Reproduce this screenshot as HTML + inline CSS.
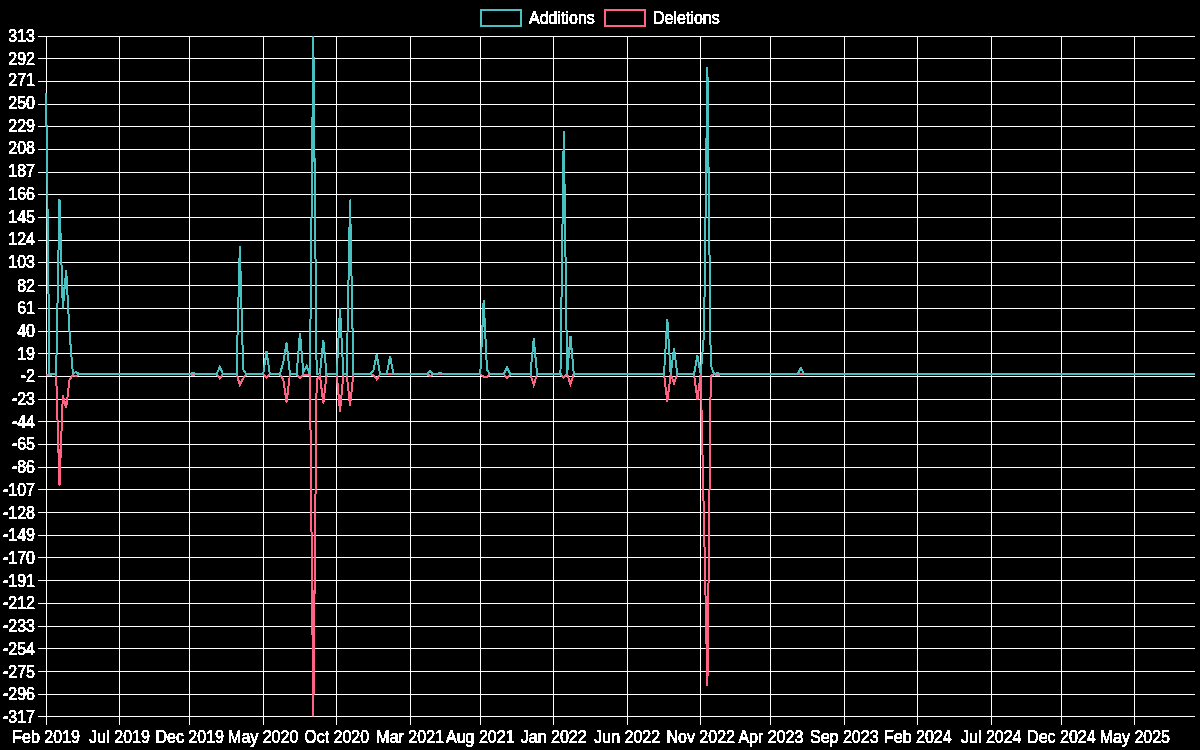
<!DOCTYPE html>
<html><head><meta charset="utf-8"><style>
html,body{margin:0;padding:0;background:#000;width:1200px;height:750px;overflow:hidden}
#c{position:relative;width:1200px;height:750px;background:#000}
svg{position:absolute;left:0;top:0}
.t{position:absolute;-webkit-text-stroke:0.6px #fff;font-family:"Liberation Sans",sans-serif;font-size:16px;line-height:16px;color:#fff;white-space:nowrap;transform:scaleY(1.1);transform-origin:50% 50%}
.yl{right:1165px;text-align:right}
.xl{width:120px;text-align:center}
</style></head><body><div id="c"><svg width="0" height="0" style="position:absolute"><filter id="thr" x="-5%" y="-20%" width="110%" height="140%"><feComponentTransfer><feFuncA type="discrete" tableValues="0 1"/></feComponentTransfer></filter></svg><div id="txt" style="position:absolute;left:0;top:0;width:1200px;height:750px;filter:url(#thr)">
<svg width="1200" height="750" viewBox="0 0 1200 750" shape-rendering="auto">
<rect x="38" y="36" width="1157" height="1" fill="#ffffff"/>
<rect x="38" y="58" width="1157" height="1" fill="#ffffff"/>
<rect x="38" y="81" width="1157" height="1" fill="#ffffff"/>
<rect x="38" y="104" width="1157" height="1" fill="#ffffff"/>
<rect x="38" y="126" width="1157" height="1" fill="#ffffff"/>
<rect x="38" y="149" width="1157" height="1" fill="#ffffff"/>
<rect x="38" y="172" width="1157" height="1" fill="#ffffff"/>
<rect x="38" y="194" width="1157" height="1" fill="#ffffff"/>
<rect x="38" y="217" width="1157" height="1" fill="#ffffff"/>
<rect x="38" y="240" width="1157" height="1" fill="#ffffff"/>
<rect x="38" y="262" width="1157" height="1" fill="#ffffff"/>
<rect x="38" y="285" width="1157" height="1" fill="#ffffff"/>
<rect x="38" y="308" width="1157" height="1" fill="#ffffff"/>
<rect x="38" y="331" width="1157" height="1" fill="#ffffff"/>
<rect x="38" y="353" width="1157" height="1" fill="#ffffff"/>
<rect x="38" y="376" width="1157" height="1" fill="#ffffff"/>
<rect x="38" y="399" width="1157" height="1" fill="#ffffff"/>
<rect x="38" y="421" width="1157" height="1" fill="#ffffff"/>
<rect x="38" y="444" width="1157" height="1" fill="#ffffff"/>
<rect x="38" y="467" width="1157" height="1" fill="#ffffff"/>
<rect x="38" y="489" width="1157" height="1" fill="#ffffff"/>
<rect x="38" y="512" width="1157" height="1" fill="#ffffff"/>
<rect x="38" y="535" width="1157" height="1" fill="#ffffff"/>
<rect x="38" y="557" width="1157" height="1" fill="#ffffff"/>
<rect x="38" y="580" width="1157" height="1" fill="#ffffff"/>
<rect x="38" y="603" width="1157" height="1" fill="#ffffff"/>
<rect x="38" y="626" width="1157" height="1" fill="#ffffff"/>
<rect x="38" y="648" width="1157" height="1" fill="#ffffff"/>
<rect x="38" y="671" width="1157" height="1" fill="#ffffff"/>
<rect x="38" y="694" width="1157" height="1" fill="#ffffff"/>
<rect x="38" y="716" width="1157" height="1" fill="#ffffff"/>
<rect x="46" y="36" width="1" height="689" fill="#ffffff"/>
<rect x="119" y="36" width="1" height="689" fill="#ffffff"/>
<rect x="189" y="36" width="1" height="689" fill="#ffffff"/>
<rect x="263" y="36" width="1" height="689" fill="#ffffff"/>
<rect x="336" y="36" width="1" height="689" fill="#ffffff"/>
<rect x="410" y="36" width="1" height="689" fill="#ffffff"/>
<rect x="480" y="36" width="1" height="689" fill="#ffffff"/>
<rect x="553" y="36" width="1" height="689" fill="#ffffff"/>
<rect x="627" y="36" width="1" height="689" fill="#ffffff"/>
<rect x="700" y="36" width="1" height="689" fill="#ffffff"/>
<rect x="770" y="36" width="1" height="689" fill="#ffffff"/>
<rect x="844" y="36" width="1" height="689" fill="#ffffff"/>
<rect x="917" y="36" width="1" height="689" fill="#ffffff"/>
<rect x="991" y="36" width="1" height="689" fill="#ffffff"/>
<rect x="1061" y="36" width="1" height="689" fill="#ffffff"/>
<rect x="1134" y="36" width="1" height="689" fill="#ffffff"/>
<defs><clipPath id="ca"><rect x="45.12" y="35.1" width="1150.88" height="683"/></clipPath></defs><g clip-path="url(#ca)">
<path d="M46.12,375.08 L49.46,375.08 L52.80,374.00 L56.14,374.00 L59.48,485.83 L62.82,395.18 L66.16,407.93 L69.50,379.94 L72.84,375.08 L76.18,376.16 L79.52,374.00 L82.86,374.00 L86.20,374.00 L89.54,374.00 L92.88,374.00 L96.22,374.00 L99.56,374.00 L102.90,374.00 L106.24,374.00 L109.58,374.00 L112.92,374.00 L116.26,374.00 L119.59,374.00 L122.93,374.00 L126.27,374.00 L129.61,374.00 L132.95,374.00 L136.29,374.00 L139.63,374.00 L142.97,374.00 L146.31,374.00 L149.65,374.00 L152.99,374.00 L156.33,374.00 L159.67,374.00 L163.01,374.00 L166.35,374.00 L169.69,374.00 L173.03,374.00 L176.37,374.00 L179.71,374.00 L183.05,374.00 L186.39,374.00 L189.73,374.00 L193.07,375.08 L196.41,374.00 L199.75,374.00 L203.09,374.00 L206.43,374.00 L209.77,374.00 L213.11,374.00 L216.45,374.00 L219.79,378.32 L223.13,374.00 L226.47,374.00 L229.81,374.00 L233.15,374.00 L236.49,374.00 L239.83,384.91 L243.17,378.32 L246.51,374.00 L249.85,374.00 L253.19,374.00 L256.53,374.00 L259.87,374.00 L263.20,374.00 L266.54,377.78 L269.88,374.00 L273.22,374.00 L276.56,374.00 L279.90,374.00 L283.24,379.40 L286.58,402.52 L289.92,374.00 L293.26,374.00 L296.60,374.00 L299.94,377.89 L303.28,375.08 L306.62,375.08 L309.96,374.00 L313.30,716.51 L316.64,379.40 L319.98,376.16 L323.32,403.28 L326.66,374.00 L330.00,374.00 L333.34,374.00 L336.68,374.00 L340.02,411.60 L343.36,374.00 L346.70,374.00 L350.04,405.87 L353.38,374.00 L356.72,374.00 L360.06,374.00 L363.40,374.00 L366.74,374.00 L370.08,374.00 L373.42,375.08 L376.76,379.40 L380.10,374.00 L383.44,374.00 L386.78,374.00 L390.12,374.54 L393.46,374.00 L396.80,374.00 L400.14,374.00 L403.48,374.00 L406.81,374.00 L410.15,374.00 L413.49,374.00 L416.83,374.00 L420.17,374.00 L423.51,374.00 L426.85,374.00 L430.19,376.16 L433.53,374.00 L436.87,374.00 L440.21,374.54 L443.55,374.00 L446.89,374.00 L450.23,374.00 L453.57,374.00 L456.91,374.00 L460.25,374.00 L463.59,374.00 L466.93,374.00 L470.27,374.00 L473.61,374.00 L476.95,374.00 L480.29,374.00 L483.63,376.70 L486.97,376.70 L490.31,374.00 L493.65,374.00 L496.99,374.00 L500.33,374.00 L503.67,374.00 L507.01,378.21 L510.35,374.00 L513.69,374.00 L517.03,374.00 L520.37,374.00 L523.71,374.00 L527.05,374.00 L530.39,374.00 L533.73,385.13 L537.07,374.00 L540.41,374.00 L543.75,374.00 L547.09,374.00 L550.42,374.00 L553.76,374.00 L557.10,374.00 L560.44,374.00 L563.78,377.78 L567.12,374.00 L570.46,384.48 L573.80,374.00 L577.14,374.00 L580.48,374.00 L583.82,374.00 L587.16,374.00 L590.50,374.00 L593.84,374.00 L597.18,374.00 L600.52,374.00 L603.86,374.00 L607.20,374.00 L610.54,374.00 L613.88,374.00 L617.22,374.00 L620.56,374.00 L623.90,374.00 L627.24,374.00 L630.58,374.00 L633.92,374.00 L637.26,374.00 L640.60,374.00 L643.94,374.00 L647.28,374.00 L650.62,374.00 L653.96,374.00 L657.30,374.00 L660.64,374.00 L663.98,374.00 L667.32,401.88 L670.66,374.00 L674.00,383.29 L677.34,374.00 L680.68,374.00 L684.02,374.00 L687.36,374.00 L690.70,374.00 L694.03,374.00 L697.37,400.04 L700.71,374.00 L704.05,525.27 L707.39,686.04 L710.73,376.16 L714.07,374.00 L717.41,375.08 L720.75,374.00 L724.09,374.00 L727.43,374.00 L730.77,374.00 L734.11,374.00 L737.45,374.00 L740.79,374.00 L744.13,374.00 L747.47,374.00 L750.81,374.00 L754.15,374.00 L757.49,374.00 L760.83,374.00 L764.17,374.00 L767.51,374.00 L770.85,374.00 L774.19,374.00 L777.53,374.00 L780.87,374.00 L784.21,374.00 L787.55,374.00 L790.89,374.00 L794.23,374.00 L797.57,374.00 L800.91,374.00 L804.25,374.00 L807.59,374.00 L810.93,374.00 L814.27,374.00 L817.61,374.00 L820.95,374.00 L824.29,374.00 L827.63,374.00 L830.97,374.00 L834.31,374.00 L837.64,374.00 L840.98,374.00 L844.32,374.00 L847.66,374.00 L851.00,374.00 L854.34,374.00 L857.68,374.00 L861.02,374.00 L864.36,374.00 L867.70,374.00 L871.04,374.00 L874.38,374.00 L877.72,374.00 L881.06,374.00 L884.40,374.00 L887.74,374.00 L891.08,374.00 L894.42,374.00 L897.76,374.00 L901.10,374.00 L904.44,374.00 L907.78,374.00 L911.12,374.00 L914.46,374.00 L917.80,374.00 L921.14,374.00 L924.48,374.00 L927.82,374.00 L931.16,374.00 L934.50,374.00 L937.84,374.00 L941.18,374.00 L944.52,374.00 L947.86,374.00 L951.20,374.00 L954.54,374.00 L957.88,374.00 L961.22,374.00 L964.56,374.00 L967.90,374.00 L971.24,374.00 L974.58,374.00 L977.92,374.00 L981.25,374.00 L984.59,374.00 L987.93,374.00 L991.27,374.00 L994.61,374.00 L997.95,374.00 L1001.29,374.00 L1004.63,374.00 L1007.97,374.00 L1011.31,374.00 L1014.65,374.00 L1017.99,374.00 L1021.33,374.00 L1024.67,374.00 L1028.01,374.00 L1031.35,374.00 L1034.69,374.00 L1038.03,374.00 L1041.37,374.00 L1044.71,374.00 L1048.05,374.00 L1051.39,374.00 L1054.73,374.00 L1058.07,374.00 L1061.41,374.00 L1064.75,374.00 L1068.09,374.00 L1071.43,374.00 L1074.77,374.00 L1078.11,374.00 L1081.45,374.00 L1084.79,374.00 L1088.13,374.00 L1091.47,374.00 L1094.81,374.00 L1098.15,374.00 L1101.49,374.00 L1104.83,374.00 L1108.17,374.00 L1111.51,374.00 L1114.85,374.00 L1118.19,374.00 L1121.53,374.00 L1124.86,374.00 L1128.20,374.00 L1131.54,374.00 L1134.88,374.00 L1138.22,374.00 L1141.56,374.00 L1144.90,374.00 L1148.24,374.00 L1151.58,374.00 L1154.92,374.00 L1158.26,374.00 L1161.60,374.00 L1164.94,374.00 L1168.28,374.00 L1171.62,374.00 L1174.96,374.00 L1178.30,374.00 L1181.64,374.00 L1184.98,374.00 L1188.32,374.00 L1191.66,374.00 L1195.00,374.00" fill="none" stroke="rgb(255,99,132)" stroke-width="2" stroke-linejoin="miter" stroke-miterlimit="4"/>
<path d="M46.12,93.15 L49.46,374.29 L52.80,374.29 L56.14,374.29 L59.48,199.04 L62.82,308.38 L66.16,270.02 L69.50,332.15 L72.84,373.21 L76.18,372.13 L79.52,374.29 L82.86,374.29 L86.20,374.29 L89.54,374.29 L92.88,374.29 L96.22,374.29 L99.56,374.29 L102.90,374.29 L106.24,374.29 L109.58,374.29 L112.92,374.29 L116.26,374.29 L119.59,374.29 L122.93,374.29 L126.27,374.29 L129.61,374.29 L132.95,374.29 L136.29,374.29 L139.63,374.29 L142.97,374.29 L146.31,374.29 L149.65,374.29 L152.99,374.29 L156.33,374.29 L159.67,374.29 L163.01,374.29 L166.35,374.29 L169.69,374.29 L173.03,374.29 L176.37,374.29 L179.71,374.29 L183.05,374.29 L186.39,374.29 L189.73,374.29 L193.07,372.67 L196.41,374.29 L199.75,374.29 L203.09,374.29 L206.43,374.29 L209.77,374.29 L213.11,374.29 L216.45,374.29 L219.79,366.73 L223.13,374.29 L226.47,374.29 L229.81,374.29 L233.15,374.29 L236.49,374.29 L239.83,245.82 L243.17,369.43 L246.51,374.29 L249.85,374.29 L253.19,374.29 L256.53,374.29 L259.87,374.29 L263.20,374.29 L266.54,350.95 L269.88,374.29 L273.22,374.29 L276.56,374.29 L279.90,374.29 L283.24,362.40 L286.58,342.42 L289.92,374.29 L293.26,374.29 L296.60,374.29 L299.94,332.80 L303.28,372.13 L306.62,365.65 L309.96,374.29 L313.30,36.10 L316.64,374.29 L319.98,373.21 L323.32,340.47 L326.66,374.29 L330.00,374.29 L333.34,374.29 L336.68,374.29 L340.02,307.95 L343.36,374.29 L346.70,374.29 L350.04,199.47 L353.38,374.29 L356.72,374.29 L360.06,374.29 L363.40,374.29 L366.74,374.29 L370.08,374.29 L373.42,370.51 L376.76,354.30 L380.10,374.29 L383.44,374.29 L386.78,374.29 L390.12,356.25 L393.46,374.29 L396.80,374.29 L400.14,374.29 L403.48,374.29 L406.81,374.29 L410.15,374.29 L413.49,374.29 L416.83,374.29 L420.17,374.29 L423.51,374.29 L426.85,374.29 L430.19,371.05 L433.53,374.29 L436.87,374.29 L440.21,372.67 L443.55,374.29 L446.89,374.29 L450.23,374.29 L453.57,374.29 L456.91,374.29 L460.25,374.29 L463.59,374.29 L466.93,374.29 L470.27,374.29 L473.61,374.29 L476.95,374.29 L480.29,373.21 L483.63,299.74 L486.97,369.97 L490.31,374.29 L493.65,374.29 L496.99,374.29 L500.33,374.29 L503.67,374.29 L507.01,367.37 L510.35,374.29 L513.69,374.29 L517.03,374.29 L520.37,374.29 L523.71,374.29 L527.05,374.29 L530.39,374.29 L533.73,338.31 L537.07,374.29 L540.41,374.29 L543.75,374.29 L547.09,374.29 L550.42,374.29 L553.76,374.29 L557.10,374.29 L560.44,374.29 L563.78,131.29 L567.12,374.29 L570.46,335.93 L573.80,374.29 L577.14,374.29 L580.48,374.29 L583.82,374.29 L587.16,374.29 L590.50,374.29 L593.84,374.29 L597.18,374.29 L600.52,374.29 L603.86,374.29 L607.20,374.29 L610.54,374.29 L613.88,374.29 L617.22,374.29 L620.56,374.29 L623.90,374.29 L627.24,374.29 L630.58,374.29 L633.92,374.29 L637.26,374.29 L640.60,374.29 L643.94,374.29 L647.28,374.29 L650.62,374.29 L653.96,374.29 L657.30,374.29 L660.64,374.29 L663.98,374.29 L667.32,318.75 L670.66,374.29 L674.00,347.93 L677.34,374.29 L680.68,374.29 L684.02,374.29 L687.36,374.29 L690.70,374.29 L694.03,374.29 L697.37,355.27 L700.71,374.29 L704.05,333.23 L707.39,67.11 L710.73,364.56 L714.07,374.29 L717.41,372.67 L720.75,374.29 L724.09,374.29 L727.43,374.29 L730.77,374.29 L734.11,374.29 L737.45,374.29 L740.79,374.29 L744.13,374.29 L747.47,374.29 L750.81,374.29 L754.15,374.29 L757.49,374.29 L760.83,374.29 L764.17,374.29 L767.51,374.29 L770.85,374.29 L774.19,374.29 L777.53,374.29 L780.87,374.29 L784.21,374.29 L787.55,374.29 L790.89,374.29 L794.23,374.29 L797.57,374.29 L800.91,367.81 L804.25,374.29 L807.59,374.29 L810.93,374.29 L814.27,374.29 L817.61,374.29 L820.95,374.29 L824.29,374.29 L827.63,374.29 L830.97,374.29 L834.31,374.29 L837.64,374.29 L840.98,374.29 L844.32,374.29 L847.66,374.29 L851.00,374.29 L854.34,374.29 L857.68,374.29 L861.02,374.29 L864.36,374.29 L867.70,374.29 L871.04,374.29 L874.38,374.29 L877.72,374.29 L881.06,374.29 L884.40,374.29 L887.74,374.29 L891.08,374.29 L894.42,374.29 L897.76,374.29 L901.10,374.29 L904.44,374.29 L907.78,374.29 L911.12,374.29 L914.46,374.29 L917.80,374.29 L921.14,374.29 L924.48,374.29 L927.82,374.29 L931.16,374.29 L934.50,374.29 L937.84,374.29 L941.18,374.29 L944.52,374.29 L947.86,374.29 L951.20,374.29 L954.54,374.29 L957.88,374.29 L961.22,374.29 L964.56,374.29 L967.90,374.29 L971.24,374.29 L974.58,374.29 L977.92,374.29 L981.25,374.29 L984.59,374.29 L987.93,374.29 L991.27,374.29 L994.61,374.29 L997.95,374.29 L1001.29,374.29 L1004.63,374.29 L1007.97,374.29 L1011.31,374.29 L1014.65,374.29 L1017.99,374.29 L1021.33,374.29 L1024.67,374.29 L1028.01,374.29 L1031.35,374.29 L1034.69,374.29 L1038.03,374.29 L1041.37,374.29 L1044.71,374.29 L1048.05,374.29 L1051.39,374.29 L1054.73,374.29 L1058.07,374.29 L1061.41,374.29 L1064.75,374.29 L1068.09,374.29 L1071.43,374.29 L1074.77,374.29 L1078.11,374.29 L1081.45,374.29 L1084.79,374.29 L1088.13,374.29 L1091.47,374.29 L1094.81,374.29 L1098.15,374.29 L1101.49,374.29 L1104.83,374.29 L1108.17,374.29 L1111.51,374.29 L1114.85,374.29 L1118.19,374.29 L1121.53,374.29 L1124.86,374.29 L1128.20,374.29 L1131.54,374.29 L1134.88,374.29 L1138.22,374.29 L1141.56,374.29 L1144.90,374.29 L1148.24,374.29 L1151.58,374.29 L1154.92,374.29 L1158.26,374.29 L1161.60,374.29 L1164.94,374.29 L1168.28,374.29 L1171.62,374.29 L1174.96,374.29 L1178.30,374.29 L1181.64,374.29 L1184.98,374.29 L1188.32,374.29 L1191.66,374.29 L1195.00,374.29" fill="none" stroke="rgb(75,192,192)" stroke-width="2" stroke-linejoin="miter" stroke-miterlimit="4"/>
</g>
<rect x="481" y="10" width="40" height="16" fill="none" stroke="rgb(75,192,192)" stroke-width="2"/>
<rect x="605" y="10" width="40" height="16" fill="none" stroke="rgb(255,99,132)" stroke-width="2"/>
</svg>
<div class="t yl" style="top:28px">313</div>
<div class="t yl" style="top:51px">292</div>
<div class="t yl" style="top:73px">271</div>
<div class="t yl" style="top:96px">250</div>
<div class="t yl" style="top:119px">229</div>
<div class="t yl" style="top:141px">208</div>
<div class="t yl" style="top:164px">187</div>
<div class="t yl" style="top:187px">166</div>
<div class="t yl" style="top:210px">145</div>
<div class="t yl" style="top:232px">124</div>
<div class="t yl" style="top:255px">103</div>
<div class="t yl" style="top:278px">82</div>
<div class="t yl" style="top:300px">61</div>
<div class="t yl" style="top:323px">40</div>
<div class="t yl" style="top:346px">19</div>
<div class="t yl" style="top:368px">-2</div>
<div class="t yl" style="top:391px">-23</div>
<div class="t yl" style="top:414px">-44</div>
<div class="t yl" style="top:436px">-65</div>
<div class="t yl" style="top:459px">-86</div>
<div class="t yl" style="top:482px">-107</div>
<div class="t yl" style="top:505px">-128</div>
<div class="t yl" style="top:527px">-149</div>
<div class="t yl" style="top:550px">-170</div>
<div class="t yl" style="top:573px">-191</div>
<div class="t yl" style="top:595px">-212</div>
<div class="t yl" style="top:618px">-233</div>
<div class="t yl" style="top:641px">-254</div>
<div class="t yl" style="top:664px">-275</div>
<div class="t yl" style="top:686px">-296</div>
<div class="t yl" style="top:709px">-317</div>
<div class="t xl" style="left:-13.88px;top:729px">Feb 2019</div>
<div class="t xl" style="left:59.59px;top:729px">Jul 2019</div>
<div class="t xl" style="left:129.73px;top:729px">Dec 2019</div>
<div class="t xl" style="left:203.20px;top:729px">May 2020</div>
<div class="t xl" style="left:276.68px;top:729px">Oct 2020</div>
<div class="t xl" style="left:350.15px;top:729px">Mar 2021</div>
<div class="t xl" style="left:420.29px;top:729px">Aug 2021</div>
<div class="t xl" style="left:493.76px;top:729px">Jan 2022</div>
<div class="t xl" style="left:567.24px;top:729px">Jun 2022</div>
<div class="t xl" style="left:640.71px;top:729px">Nov 2022</div>
<div class="t xl" style="left:710.85px;top:729px">Apr 2023</div>
<div class="t xl" style="left:784.32px;top:729px">Sep 2023</div>
<div class="t xl" style="left:857.80px;top:729px">Feb 2024</div>
<div class="t xl" style="left:931.27px;top:729px">Jul 2024</div>
<div class="t xl" style="left:1001.41px;top:729px">Dec 2024</div>
<div class="t xl" style="left:1074.88px;top:729px">May 2025</div>
<div class="t" style="left:529px;top:10px">Additions</div>
<div class="t" style="left:653px;top:10px">Deletions</div>
</div></div></body></html>
